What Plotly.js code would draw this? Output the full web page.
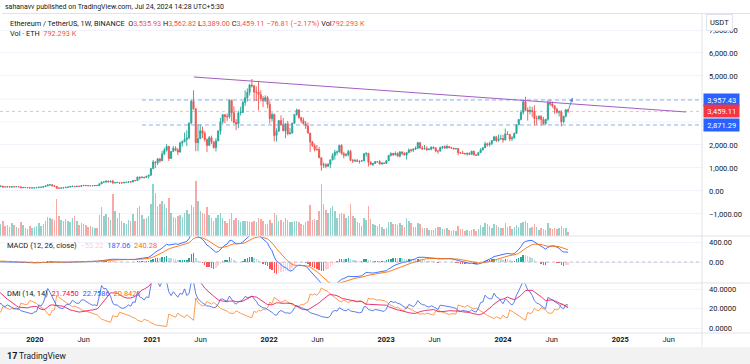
<!DOCTYPE html>
<html><head><meta charset="utf-8">
<script src="https://cdn.plot.ly/plotly-3.0.1.min.js"></script>
<style>html,body{margin:0;padding:0;background:#fff;}#chart{width:750px;height:364px;}</style>
</head><body><div id="chart"></div>
<script>
// ---------------- DATA (weekly ETH/USDT, Binance) ----------------
const firstWeek = '2019-01-07';
const firstOpen = 150;
const closes = [
 // 2019
 117,117,107,106, 124,133,136,131, 136,140,137,141, 185,167,170,156,162, 187,261,251,264, 229,269,307,293,
 288,230,225,206,222, 211,195,186,172, 181,198,215,174,172, 187,172,184,182, 189,184,141,150, 150,142,132,134,136,
 // 2020
 146,166,167,189, 223,259,274,218, 200,124,122,125,143, 158,171,197,207, 188,207,200,232, 244,233,228,225,228,
 239,236,310,386, 390,433,396,428,353, 365,371,356,352, 375,377,406,396, 454,448,608,575,597, 590,638,685,975,
 // 2021
 1260,1230,1390,1314, 1613,1780,1935,1416, 1720,1855,1787,1690,2085, 2140,2240,2314,2950, 3900,3580,2100,2270,2620,
 2510,2240,1980,2320, 2140,1890,2180,2610, 3010,3320,3240,3225,3940, 3400,2980,2920,3390, 3415,3850,4050,4290,
 4610,4570,4300,4300,4190, 4020,3925,4060,3765,
 // 2022
 3150,3330,2410,2600,3060, 2880,2620,2920,2490, 2520,2950,3330,3520, 3200,3060,2920,2830, 2520,2140,1970,1800,1800,
 1450,1125,1140,1075, 1160,1355,1550,1680, 1700,1985,1620,1550,1580, 1720,1330,1310,1320, 1290,1300,1310,1620,1640,
 1250,1150,1200,1280, 1275,1170,1220,1200,
 // 2023
 1320,1550,1630,1575,1630, 1515,1690,1640,1565, 1675,1780,1770,1825, 1860,2100,1870,1830, 1850,1800,1815,1910,1875,
 1740,1735,1890,1935, 1865,1935,1890,1860,1830, 1845,1665,1655,1630, 1610,1640,1595,1730, 1560,1555,1665,1790,1880,
 2050,2010,2065,2195, 2355,2195,2265,2280,
 // 2024
 2220,2480,2460,2265,2300, 2505,2880,3110,3420, 3880,3520,3450,3500, 3455,3150,3150,3250,3110, 2930,3115,3830,3780,
 3705,3565,3425,3440, 3010,3250,3535.93,3459.11
];
const highs = [
 // 2019
 155,128,122,109, 126,135,165,140, 140,141,145,143, 188,190,180,175,167, 190,275,265,285, 268,273,318,365,
 322,316,238,230,228, 238,216,200,192, 186,200,225,215,183, 197,197,198,192, 197,190,185,158, 153,152,142,135,145,
 // 2020
 148,180,172,190, 227,288,287,278, 253,204,146,144,150, 176,187,198,227, 216,208,215,243, 253,251,242,248,242,
 249,246,325,415, 410,445,443,440,488, 385,396,385,368, 376,394,420,414, 470,478,620,622,635, 605,660,700,1000,
 // 2021
 1350,1290,1440,1440, 1740,1875,2040,1970, 1740,1950,1945,1855,2145, 2200,2545,2645,2975, 3970,4380,3590,2910,2890,
 2800,2600,2280,2390, 2410,2140,2300,2640, 3180,3335,3330,3370,3980, 3970,3680,3120,3490, 3665,3910,4380,4460,
 4660,4870,4610,4550,4780, 4380,4130,4160,4130,
 // 2022
 3900,3420,3360,2720,3080, 3290,3180,2950,3050, 2740,2960,3340,3580, 3560,3210,3190,3040, 2970,2520,2160,2070,2000,
 1920,1450,1240,1210, 1210,1360,1650,1790, 1760,2010,2030,1700,1650, 1790,1790,1400,1400, 1390,1310,1350,1640,1680,
 1650,1290,1220,1300, 1300,1350,1240,1230,
 // 2023
 1330,1560,1680,1660,1720, 1680,1740,1740,1680, 1680,1850,1840,1850, 1940,2140,2130,1960, 2000,1940,1860,1930,1930,
 1890,1770,1930,1950, 1980,2020,1940,1900,1880, 1870,1850,1700,1750, 1660,1660,1680,1750, 1750,1590,1700,1860,1910,
 2140,2100,2140,2200, 2400,2380,2450,2450,
 // 2024
 2440,2715,2600,2470,2390, 2540,2890,3120,3520, 3950,4095,3630,3680, 3660,3730,3280,3290,3290, 3220,3130,3950,3975,
 3890,3720,3620,3500, 3520,3250,3540,3562.82
];
const lows = [
 // 2019
 115,114,104,100, 101,118,131,127, 125,130,133,131, 140,155,161,150,152, 160,185,230,244, 225,228,263,275,
 265,205,198,200,205, 205,175,183,164, 165,176,195,155,168, 170,170,157,178, 180,178,138,140, 143,138,116,124,126,
 // 2020
 135,143,155,163, 183,208,244,210, 198,90,108,118,124, 140,150,166,192, 180,180,196,195, 224,220,223,217,222,
 226,229,232,308, 365,365,375,375,310, 330,355,306,330, 335,360,366,370, 375,435,445,480,565, 535,580,545,680,
 // 2021
 950,1000,1130,1230, 1300,1560,1710,1300, 1400,1710,1730,1560,1680, 1935,2140,1950,2240, 2940,3530,1730,1730,2260,
 2300,2150,1700,1980, 2040,1840,1720,2160, 2450,2910,2950,3050,3150, 3030,2930,2650,2730, 3280,3390,3700,3890,
 4150,4500,3900,3910,3500, 3900,3650,3880,3600,
 // 2022
 2930,3020,2160,2150,2580, 2830,2600,2300,2420, 2450,2500,2910,3270, 3140,2950,2910,2700, 2500,1700,1920,1720,1750,
 1420,880,1000,990, 1060,1000,1330,1360, 1550,1670,1580,1420,1500, 1500,1300,1220,1260, 1280,1190,1270,1300,1500,
 1070,1140,1080,1170, 1230,1160,1150,1180,
 // 2023
 1190,1310,1500,1520,1550, 1500,1460,1560,1540, 1370,1640,1680,1690, 1780,1840,1840,1780, 1800,1740,1780,1770,1820,
 1680,1620,1720,1820, 1840,1850,1850,1820,1810, 1810,1550,1620,1610, 1600,1530,1570,1580, 1560,1520,1540,1660,1760,
 1870,1930,1930,2000, 2190,2120,2140,2240,
 // 2024
 2100,2200,2440,2160,2180, 2290,2480,2860,3070, 3320,3470,3060,3330, 3210,2850,2870,3070,2820, 2870,2860,3050,3700,
 3620,3360,3360,3240, 2810,2940,3200,3389.00
];
// weekly volume, millions of ETH
const volumesM = [
 // 2019
 3.5,2.8,2.6,2.4, 2.6,2.4,4.0,2.8, 2.2,2.0,2.2,2.0, 4.2,3.6,2.6,2.6,2.4, 3.6,6.0,4.2,4.0, 3.8,3.2,3.8,5.2,
 4.5,4.0,3.5,2.5,2.2, 2.2,2.6,1.8,2.0, 1.8,2.0,2.4,3.0,2.0, 2.2,1.8,2.6,2.2, 1.8,1.6,2.8,2.2, 1.6,1.5,2.0,1.6,1.8,
 // 2020
 2.0,2.6,2.0,2.4, 3.0,3.8,3.6,3.4, 3.2,7.4,4.0,3.2,3.0, 3.4,3.0,2.8,3.6, 4.0,3.0,2.2,2.6, 2.4,2.2,1.8,2.0,1.8,
 1.6,1.6,4.2,5.8, 4.0,4.4,3.8,3.2,8.4, 5.0,3.6,4.6,3.0, 2.6,2.4,3.2,3.0, 4.4,3.0,5.6,6.0,4.2, 3.4,3.6,4.0,6.4,
 // 2021
 10.4,8.6,6.0,6.4, 7.0,6.4,5.6,7.6, 4.6,3.8,3.6,4.0,4.2, 3.8,4.6,5.2,4.4, 6.2,5.8,11.0,7.0,5.0,
 4.6,4.4,5.8,4.2, 3.6,3.0,3.6,4.2, 4.6,3.6,3.0,2.6,3.4, 4.6,3.2,3.6,3.2, 2.8,3.0,3.0,3.0, 2.8,2.8,3.0,2.8,3.6, 3.4,3.0,2.4,2.4,
 // 2022
 3.2,2.6,4.6,4.2,3.0, 3.2,2.8,3.6,3.2, 2.8,2.8,3.0,3.0, 2.8,2.4,2.2,2.8, 3.0,6.2,3.2,3.4,3.2,
 5.0,10.4,6.4,5.2, 4.6,5.6,6.0,5.0, 3.6,4.4,4.6,4.4,3.6, 4.0,6.4,4.0,3.6, 2.8,2.6,2.0,3.6,3.2, 6.0,3.4,2.4,2.2, 2.0,2.4,1.8,1.4,
 // 2023
 1.6,2.8,2.8,2.4,2.4, 2.2,2.6,2.2,1.8, 3.6,3.0,2.6,1.8, 1.8,2.6,2.4,1.6, 1.6,1.6,1.2,1.2,1.2,
 1.6,1.8,1.8,1.4, 1.4,1.6,1.2,1.0,1.2, 1.0,2.0,1.4,1.4, 1.0,1.2,1.0,1.2, 1.4,1.0,1.4,2.2,1.8, 2.6,2.4,2.0,1.6, 2.4,2.2,1.8,1.6,
 // 2024
 1.6,2.6,1.8,2.0,1.4, 1.8,2.2,1.8,2.6, 2.8,3.0,2.6,1.6, 1.8,2.4,1.8,1.2,1.6, 1.4,1.2,2.6,1.6,
 1.4,1.6,1.4,1.6, 2.0,1.6,1.6,0.79
];
const timeTickDates = ['2020-01-01','2020-06-01','2021-01-01','2021-06-01','2022-01-01','2022-06-01',
  '2023-01-01','2023-06-01','2024-01-01','2024-06-01','2025-01-01','2025-06-01'];
const timeTickLabels = ['<b>2020</b>','Jun','<b>2021</b>','Jun','<b>2022</b>','Jun','<b>2023</b>','Jun','<b>2024</b>','Jun','<b>2025</b>','Jun'];
const priceTicks = [-1000,0,1000,2000,5000,6000,7000];   // 3,000 and 4,000 are hidden behind the price labels
const hiddenGridTicks = [3000,4000];
const macdTicks = [0,400];
const dmiTicks = [0,20,40];
const levelHigh = 3957.43, levelLow = 2871.29;
const levelStartDate = '2020-11-30';
const trendStart = ['2021-05-11', 4957];
const trendEnd = ['2025-07-25', 3435];
const arrowFrom = ['2024-07-22', 3470];
const arrowTo = ['2024-08-05', 4060];
const headerTop = 'sahanavv published on TradingView.com, Jul 24, 2024 14:28 UTC+5:30';
const headerValues = ['3,535.93','3,562.82','3,389.00','3,459.11','−76.81 (−2.17%)','792.293 K'];
const macdLegend = ['−53.22','187.06','240.28'];
const dmiLegend = ['21.7450','22.7586','20.8423'];

// ---------------- BUILD ----------------
const N = closes.length;
const DAY = 86400000;
const d0 = Date.parse(firstWeek + 'T00:00:00Z');
const dates = [];
for (let i = 0; i < N; i++) dates.push(new Date(d0 + i * 7 * DAY).toISOString().slice(0, 10));
const opens = closes.map((c, i) => i === 0 ? firstOpen : closes[i - 1]);
const hi = highs.map((h, i) => Math.max(h, opens[i], closes[i]));
const lo = lows.map((l, i) => Math.min(l, opens[i], closes[i]));

const GREEN = '#26a69a', RED = '#ef5350';
const volColors = closes.map((c, i) => c >= opens[i] ? 'rgba(38,166,154,0.5)' : 'rgba(239,83,80,0.5)');

function ema(src, n) { const a = 2 / (n + 1); const out = []; let p = src[0]; for (let i = 0; i < src.length; i++) { p = i === 0 ? src[0] : a * src[i] + (1 - a) * p; out.push(p); } return out; }
function rma(src, n) { const out = []; let p = src[0]; for (let i = 0; i < src.length; i++) { p = i === 0 ? src[0] : p + (src[i] - p) / n; out.push(p); } return out; }
const e12 = ema(closes, 12), e26 = ema(closes, 26);
const macd = e12.map((v, i) => v - e26[i]);
const signal = ema(macd, 9);
const hist = macd.map((v, i) => v - signal[i]);
const histColors = hist.map((h, i) => {
  const prev = i > 0 ? hist[i - 1] : h;
  if (h >= 0) return prev < h ? '#26a69a' : '#b2dfdb';
  return prev < h ? '#ffcdd2' : '#ff5252';
});
const tr = [], pdm = [], mdm = [];
for (let i = 0; i < N; i++) {
  if (i === 0) { tr.push(hi[0] - lo[0]); pdm.push(0); mdm.push(0); continue; }
  const up = hi[i] - hi[i - 1], dn = lo[i - 1] - lo[i];
  pdm.push(up > dn && up > 0 ? up : 0);
  mdm.push(dn > up && dn > 0 ? dn : 0);
  tr.push(Math.max(hi[i] - lo[i], Math.abs(hi[i] - closes[i - 1]), Math.abs(lo[i] - closes[i - 1])));
}
const trS = rma(tr, 14), pS = rma(pdm, 14), mS = rma(mdm, 14);
const plusDI = pS.map((v, i) => 100 * v / trS[i]);
const minusDI = mS.map((v, i) => 100 * v / trS[i]);
const dx = plusDI.map((p, i) => { const s = p + minusDI[i]; return s === 0 ? 0 : 100 * Math.abs(p - minusDI[i]) / s; });
const adx = rma(dx, 14);

// pixel helpers for text placement
const W = 750, H = 364, ML = 0, MR = 48, MT = 15, MB = 31;
const PW = W - ML - MR, PH = H - MT - MB;
const px = v => (v - ML) / PW;
const py = v => (H - MB - v) / PH;
const FONT = 'Roboto, "Noto Sans", Arial, sans-serif';
const xRange = ['2019-09-14', '2025-09-13'];

const traces = [
  { type: 'bar', x: dates, y: volumesM, xaxis: 'x', yaxis: 'y', marker: { color: volColors, line: { width: 0 } }, width: 4.6 * DAY, hoverinfo: 'skip' },
  { type: 'candlestick', x: dates, open: opens, high: hi, low: lo, close: closes, xaxis: 'x', yaxis: 'y2',
    increasing: { line: { color: GREEN, width: 0.9 }, fillcolor: GREEN },
    decreasing: { line: { color: RED, width: 0.9 }, fillcolor: RED }, hoverinfo: 'skip' },
  { type: 'bar', x: dates, y: hist, xaxis: 'x', yaxis: 'y3', marker: { color: histColors, line: { width: 0 } }, width: 4.6 * DAY, hoverinfo: 'skip' },
  { type: 'scatter', mode: 'lines', x: dates, y: macd, xaxis: 'x', yaxis: 'y3', line: { color: '#2962ff', width: 0.9 }, hoverinfo: 'skip' },
  { type: 'scatter', mode: 'lines', x: dates, y: signal, xaxis: 'x', yaxis: 'y3', line: { color: '#ff6d00', width: 0.9 }, hoverinfo: 'skip' },
  { type: 'scatter', mode: 'lines', x: dates, y: minusDI, xaxis: 'x', yaxis: 'y4', line: { color: '#ff8f3a', width: 0.9 }, hoverinfo: 'skip' },
  { type: 'scatter', mode: 'lines', x: dates, y: plusDI, xaxis: 'x', yaxis: 'y4', line: { color: '#4a6fe8', width: 0.9 }, hoverinfo: 'skip' },
  { type: 'scatter', mode: 'lines', x: dates, y: adx, xaxis: 'x', yaxis: 'y4', line: { color: '#e91e63', width: 0.9 }, hoverinfo: 'skip' }
];

const SEP = '#e0e3eb';
const shapes = [
  // pane separators and frame
  { type: 'line', xref: 'paper', yref: 'paper', x0: 0, x1: W / PW, y0: py(236), y1: py(236), line: { color: SEP, width: 1 } },
  { type: 'line', xref: 'paper', yref: 'paper', x0: 0, x1: W / PW, y0: py(283), y1: py(283), line: { color: SEP, width: 1 } },
  { type: 'line', xref: 'paper', yref: 'paper', x0: 0, x1: W / PW, y0: py(333), y1: py(333), line: { color: SEP, width: 1 } },
  { type: 'line', xref: 'paper', yref: 'paper', x0: px(2), x1: W / PW, y0: py(13.5), y1: py(13.5), line: { color: SEP, width: 1 } },
  { type: 'line', xref: 'paper', yref: 'paper', x0: 1, x1: 1, y0: py(13.5), y1: py(346), line: { color: SEP, width: 1 } },
  { type: 'rect', xref: 'paper', yref: 'paper', x0: -0.01, x1: W / PW + 0.01, y0: py(364), y1: py(347), line: { width: 0 }, fillcolor: '#f2f2f2', layer: 'below' },
  // MACD zero line
  { type: 'line', xref: 'paper', yref: 'y3', x0: 0, x1: 1, y0: 0, y1: 0, line: { color: '#b2b5be', width: 0.8, dash: '3px,3px' } },
  // last price dotted line
  { type: 'line', xref: 'paper', yref: 'y2', x0: 0, x1: 1, y0: closes[N - 1], y1: closes[N - 1], line: { color: 'rgba(239,83,80,0.4)', width: 1, dash: 'dot' } },
  // horizontal levels
  { type: 'line', xref: 'x', yref: 'y2', x0: levelStartDate, x1: xRange[1], y0: levelHigh, y1: levelHigh, line: { color: '#6e9be0', width: 0.8, dash: '4px,3px' } },
  { type: 'line', xref: 'x', yref: 'y2', x0: levelStartDate, x1: xRange[1], y0: levelLow, y1: levelLow, line: { color: '#6e9be0', width: 0.8, dash: '4px,3px' } },
  // trend line
  { type: 'line', xref: 'x', yref: 'y2', x0: trendStart[0], y0: trendStart[1], x1: trendEnd[0], y1: trendEnd[1], line: { color: '#a45cc4', width: 1 } }
];
hiddenGridTicks.forEach(v => shapes.push({ type: 'line', xref: 'paper', yref: 'y2', x0: 0, x1: 1, y0: v, y1: v, layer: 'below', line: { color: '#f0f3fa', width: 1 } }));

const red = s => '<span style="color:#ef5350">' + s + '</span>';
const ann = (x, y, text, opts) => Object.assign({ xref: 'paper', yref: 'paper', x: px(x), y: py(y), text, showarrow: false, xanchor: 'left', yanchor: 'middle', font: { family: FONT, size: 7.5, color: '#131722' } }, opts || {});
const annotations = [
  ann(3, 7, headerTop, { font: { family: FONT, size: 7, color: '#131722' } }),
  ann(8, 23, 'Ethereum / TetherUS, 1W, BINANCE&nbsp;&nbsp;O' + red(headerValues[0]) + '&nbsp;H' + red(headerValues[1]) + '&nbsp;L' + red(headerValues[2]) + '&nbsp;C' + red(headerValues[3]) + '&nbsp;' + red(headerValues[4]) + '&nbsp;Vol' + red(headerValues[5]), { font: { family: FONT, size: 7.3, color: '#131722' } }),
  ann(8, 33, 'Vol · ETH&nbsp;&nbsp;' + red(headerValues[5]), { font: { family: FONT, size: 7.3, color: '#131722' } }),
  ann(706, 22, 'USDT', { bgcolor: '#ffffff', bordercolor: '#e0e3eb', borderwidth: 1, borderpad: 3, font: { family: FONT, size: 7.5, color: '#131722' } }),
  ann(5, 246, 'MACD (12, 26, close)&nbsp;&nbsp;<span style="color:#ffcdd2">' + macdLegend[0] + '</span>&nbsp;&nbsp;<span style="color:#2962ff">' + macdLegend[1] + '</span>&nbsp;&nbsp;<span style="color:#ff6d00">' + macdLegend[2] + '</span>'),
  ann(5, 293, 'DMI (14, 14)&nbsp;&nbsp;<span style="color:#f50057">' + dmiLegend[0] + '</span>&nbsp;&nbsp;<span style="color:#2962ff">' + dmiLegend[1] + '</span>&nbsp;&nbsp;<span style="color:#ff6d00">' + dmiLegend[2] + '</span>'),
  // price labels on scale
  { xref: 'paper', yref: 'y2', x: px(703), y: levelHigh, text: '&nbsp;3,957.43&nbsp;', showarrow: false, xanchor: 'left', yanchor: 'middle', bgcolor: '#2962ff', borderpad: 1.5, font: { family: FONT, size: 7.5, color: '#ffffff' } },
  { xref: 'paper', yref: 'y2', x: px(703), y: closes[N - 1], text: '&nbsp;3,459.11&nbsp;', showarrow: false, xanchor: 'left', yanchor: 'middle', bgcolor: '#f23645', borderpad: 1.5, font: { family: FONT, size: 7.5, color: '#ffffff' } },
  { xref: 'paper', yref: 'y2', x: px(703), y: levelLow, text: '&nbsp;2,871.29&nbsp;', showarrow: false, xanchor: 'left', yanchor: 'middle', bgcolor: '#2962ff', borderpad: 1.5, font: { family: FONT, size: 7.5, color: '#ffffff' } },
  // projection arrow
  { xref: 'x', yref: 'y2', axref: 'x', ayref: 'y2', x: arrowTo[0], y: arrowTo[1], ax: arrowFrom[0], ay: arrowFrom[1], text: '', showarrow: true, arrowhead: 2, arrowsize: 0.8, arrowwidth: 1, arrowcolor: '#5b8fd6' },
  // footer
  ann(5, 356, '<b>17</b>', { font: { family: FONT, size: 9, color: '#131722' } }),
  ann(17, 356, 'TradingView', { font: { family: FONT, size: 8.5, color: '#131722' } })
];
if ([highs.length, lows.length, volumesM.length].some(l => l !== N)) {
  annotations.push(ann(300, 60, 'LEN ' + N + ' ' + highs.length + ' ' + lows.length + ' ' + volumesM.length, { font: { size: 14, color: 'red' } }));
}

const axFont = { family: FONT, size: 7.5, color: '#131722' };
const layout = {
  width: W, height: H, margin: { l: ML, r: MR, t: MT, b: MB },
  paper_bgcolor: '#ffffff', plot_bgcolor: '#ffffff', showlegend: false, hovermode: false, dragmode: false,
  font: { family: FONT, size: 7.5, color: '#131722' },
  bargap: 0,
  xaxis: { type: 'date', range: xRange, anchor: 'y4', tickvals: timeTickDates, ticktext: timeTickLabels, tickfont: axFont,
    showgrid: false, zeroline: false, showline: false, ticks: '', rangeslider: { visible: false }, fixedrange: true },
  yaxis: { domain: [py(236), 1], range: [0, 44.2], visible: false, fixedrange: true },
  yaxis2: { overlaying: 'y', anchor: 'x', side: 'right', range: [-1957, 7652], tickvals: priceTicks, tickformat: ',.2f', tickfont: axFont,
    showgrid: true, gridcolor: '#f0f3fa', zeroline: false, showline: false, ticks: '', ticklabelstandoff: 6, fixedrange: true },
  yaxis3: { domain: [py(283), py(236)], anchor: 'x', side: 'right', range: [-420, 520], tickvals: macdTicks, tickformat: '.2f', tickfont: axFont,
    showgrid: true, gridcolor: '#f0f3fa', zeroline: false, showline: false, ticks: '', ticklabelstandoff: 6, fixedrange: true },
  yaxis4: { domain: [0, py(283)], anchor: 'x', side: 'right', range: [-5.1, 46.2], tickvals: dmiTicks, tickformat: '.4f', tickfont: axFont,
    showgrid: true, gridcolor: '#f0f3fa', zeroline: false, showline: false, ticks: '', ticklabelstandoff: 6, fixedrange: true },
  shapes, annotations
};
Plotly.newPlot('chart', traces, layout, { staticPlot: true, displayModeBar: false });
</script></body></html>
